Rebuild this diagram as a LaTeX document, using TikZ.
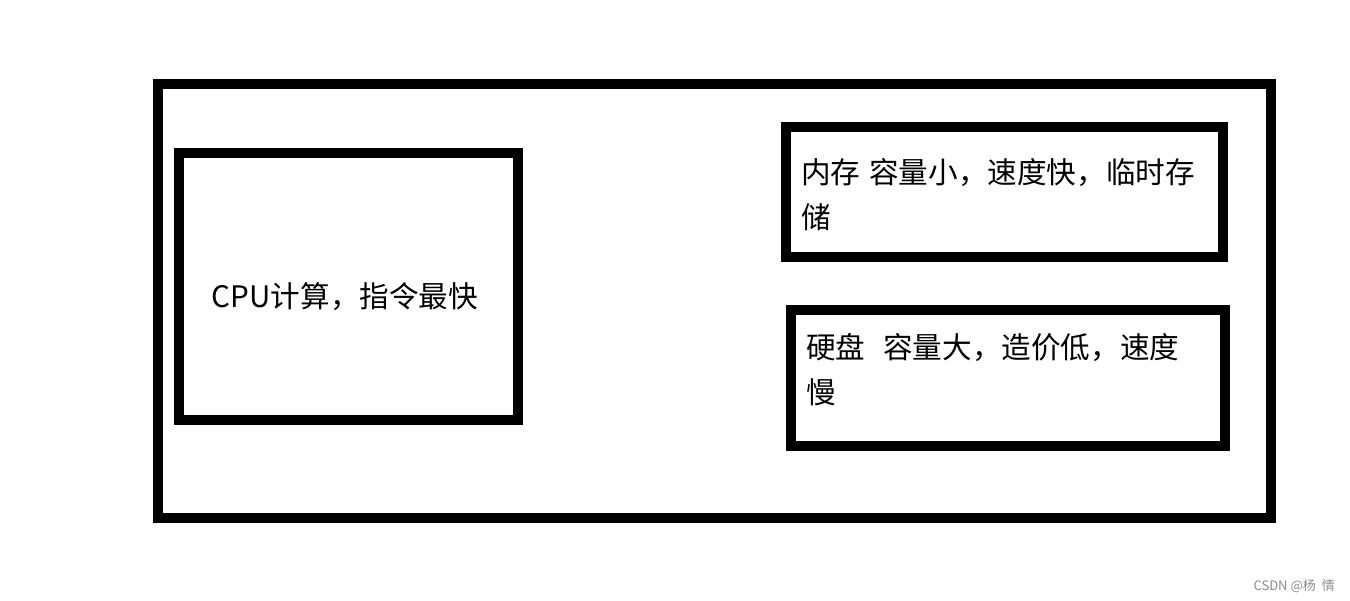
\documentclass[tikz,border=0pt]{standalone}
\usepackage{fontspec}
\newfontfamily\cjk{Noto Sans CJK SC}
\tikzset{
  box/.style={draw=black, line width=10pt, rectangle, inner sep=0pt, fill=none},
  label/.style={inner sep=0pt, outer sep=0pt, font=\cjk\fontsize{29.6}{35}\selectfont},
  watermark/.style={inner sep=0pt, text=black!45, font=\cjk\fontsize{13}{15}\selectfont}
}
\begin{document}
\begin{tikzpicture}[x=1pt,y=-1pt]
\useasboundingbox[fill=white] (0,0) rectangle (1350,601);
\node[box, minimum width=1113pt, minimum height=434pt] (outer) at (714.5,301) {};
\node[box, minimum width=339pt, minimum height=267pt] (cpu) at (348.5,286.5) {};
\node[box, minimum width=437pt, minimum height=130pt] (mem) at (1004.5,192) {};
\node[box, minimum width=434pt, minimum height=136pt] (disk) at (1008,378) {};
\node[label, anchor=base] (cputext) at (345,308) {CPU计算，指令最快};
\node[label, anchor=base west] (memtext1) at (801,183.5) {内存\hspace{9pt}容量小，速度快，临时存};
\node[label, anchor=base west] (memtext2) at (801,229) {储};
\node[label, anchor=base west] (disktext1) at (806,358.5) {硬盘\hspace{18pt}容量大，造价低，速度};
\node[label, anchor=base west] (disktext2) at (806,404) {慢};
\node[watermark, anchor=base east] (wm) at (1335,590) {CSDN @杨\hspace{6pt}情};
\end{tikzpicture}
\end{document}
